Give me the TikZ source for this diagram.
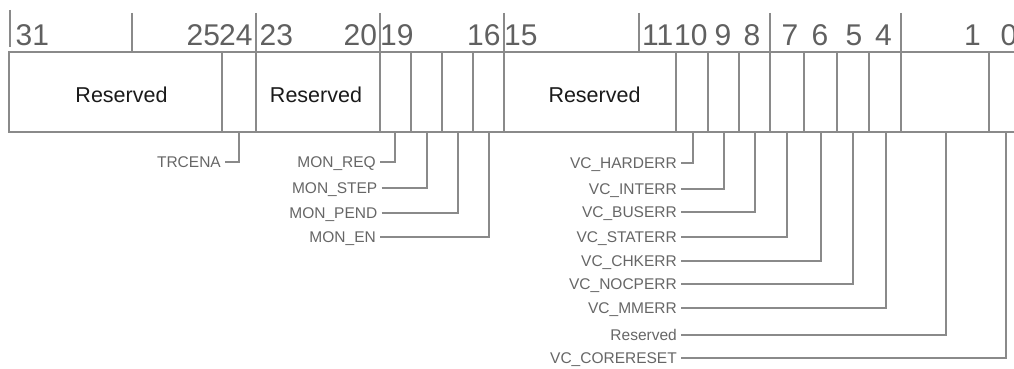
\documentclass[tikz,border=0pt]{standalone}
\usepackage{fontspec}
\setmainfont{Liberation Sans}
\definecolor{linec}{HTML}{8A8A8A}
\definecolor{numc}{HTML}{606060}
\definecolor{labc}{HTML}{666666}
\definecolor{fldc}{HTML}{1A1A1A}
\begin{document}
\begin{tikzpicture}[x=1pt,y=-1pt,
  bitnum/.style={font=\fontsize{30}{30}\selectfont, text=numc, anchor=base west, inner sep=0pt},
  fieldname/.style={font=\fontsize{21.5}{22}\selectfont, text=fldc, anchor=base, inner sep=0pt},
  sig/.style={font=\fontsize{15.5}{16}\selectfont, text=labc, anchor=east, inner xsep=4pt, inner ysep=0pt, text height=11.1pt, text depth=0pt},
  wire/.style={draw=linec, line width=1.2pt},
  frame/.style={draw=linec, line width=1.3pt}]
\useasboundingbox (0,0) rectangle (1014,369);
\clip (0,0) rectangle (1014,369);
% register box
\draw[frame] (9,52) rectangle (1030,132);
\foreach \x in {222,256,380,411,442,473,504,676,708,739,770,804,837,869,901,989}
  \draw[frame] (\x,52) -- (\x,132);
% header ticks
\draw[frame] (10,10) -- (10,47);
\foreach \x in {132,256,380,504,639,770,901}
  \draw[frame] (\x,13) -- (\x,52);
% bit numbers
\node[bitnum] (n31) at (15.5,45.5) {31};
\node[bitnum] (n25) at (186.5,45.5) {25};
\node[bitnum] (n24) at (219,45.5) {24};
\node[bitnum] (n23) at (259.5,45.5) {23};
\node[bitnum] (n20) at (343.5,45.5) {20};
\node[bitnum] (n19) at (380,45.5) {19};
\node[bitnum] (n16) at (467,45.5) {16};
\node[bitnum] (n15) at (504,45.5) {15};
\node[bitnum] (n11) at (642,45.5) {11};
\node[bitnum] (n10) at (674,45.5) {10};
\node[bitnum] (n9) at (714.5,45.5) {9};
\node[bitnum] (n8) at (743.5,45.5) {8};
\node[bitnum] (n7) at (781.5,45.5) {7};
\node[bitnum] (n6) at (811.5,45.5) {6};
\node[bitnum] (n5) at (845.5,45.5) {5};
\node[bitnum] (n4) at (875,45.5) {4};
\node[bitnum] (n1) at (964,45.5) {1};
\node[bitnum] (n0) at (1000.5,45.5) {0};
% field names
\node[fieldname] (r1) at (121.5,102.5) {Reserved};
\node[fieldname] (r2) at (316,102.5) {Reserved};
\node[fieldname] (r3) at (594.5,102.5) {Reserved};
% bit anchor points at box bottom
\coordinate (b24) at (239,132);
\coordinate (b19) at (395,132);
\coordinate (b18) at (427,132);
\coordinate (b17) at (458,132);
\coordinate (b16) at (489,132);
\coordinate (b10) at (693,132);
\coordinate (b9) at (724,132);
\coordinate (b8) at (755,132);
\coordinate (b7) at (787,132);
\coordinate (b6) at (821,132);
\coordinate (b5) at (853,132);
\coordinate (b4) at (886,132);
\coordinate (b31) at (946,132);
\coordinate (b0) at (1006,132);
% signal labels
\node[sig] (trcena) at (225,162) {TRCENA};
\node[sig] (monreq) at (380,162) {MON\_REQ};
\node[sig] (monstep) at (381.5,188) {MON\_STEP};
\node[sig] (monpend) at (381.5,213) {MON\_PEND};
\node[sig] (monen) at (380,237) {MON\_EN};
\node[sig] (hard) at (681,163) {VC\_HARDERR};
\node[sig] (inter) at (681,189) {VC\_INTERR};
\node[sig] (bus) at (681,212) {VC\_BUSERR};
\node[sig] (stat) at (681,237) {VC\_STATERR};
\node[sig] (chk) at (681,261) {VC\_CHKERR};
\node[sig] (nocp) at (681,284) {VC\_NOCPERR};
\node[sig] (mm) at (681,308) {VC\_MMERR};
\node[sig] (res) at (681,335) {Reserved};
\node[sig] (core) at (681,358) {VC\_CORERESET};
% connectors
\draw[wire] (trcena.east) -| (b24);
\draw[wire] (monreq.east) -| (b19);
\draw[wire] (monstep.east) -| (b18);
\draw[wire] (monpend.east) -| (b17);
\draw[wire] (monen.east) -| (b16);
\draw[wire] (hard.east) -| (b10);
\draw[wire] (inter.east) -| (b9);
\draw[wire] (bus.east) -| (b8);
\draw[wire] (stat.east) -| (b7);
\draw[wire] (chk.east) -| (b6);
\draw[wire] (nocp.east) -| (b5);
\draw[wire] (mm.east) -| (b4);
\draw[wire] (res.east) -| (b31);
\draw[wire] (core.east) -| (b0);
\end{tikzpicture}
\end{document}
